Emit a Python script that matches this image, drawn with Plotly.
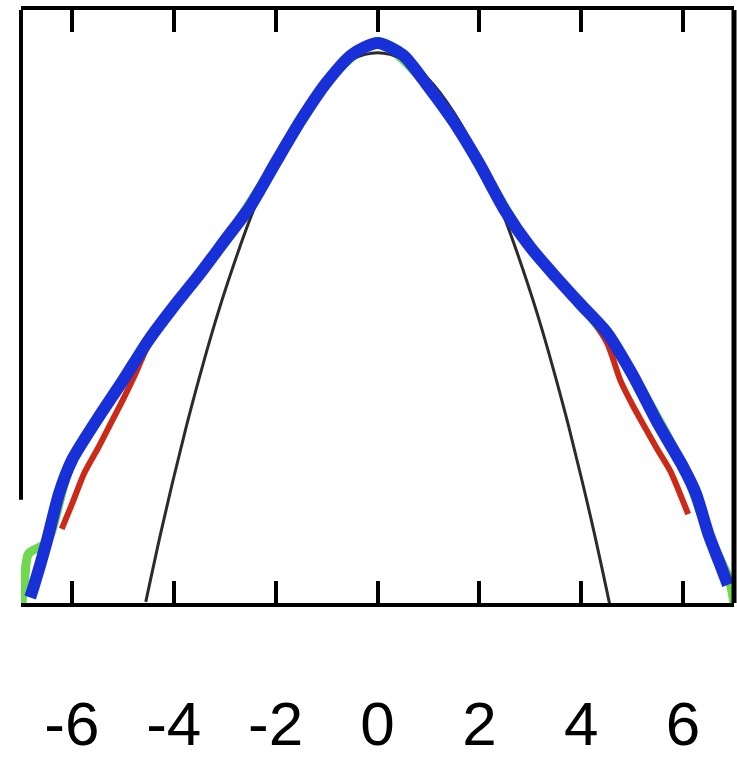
import plotly.graph_objects as go

# Log-density curves compared with a Gaussian reference (natural log, peak at 0)
blue_x = [-6.82, -6.75, -6.50, -6.25, -6.00, -5.50, -5.00, -4.50, -4.00, -3.50,
          -3.00, -2.50, -2.00, -1.50, -1.00, -0.50, 0.00, 0.50, 1.00, 1.50,
          2.00, 2.50, 3.00, 3.50, 4.00, 4.50, 5.00, 5.50, 6.00, 6.25,
          6.50, 6.75, 6.88]
blue_y = [-10.10, -9.90, -9.10, -8.20, -7.60, -6.85, -6.15, -5.42, -4.80, -4.22,
          -3.60, -2.98, -2.18, -1.40, -0.72, -0.21, 0.00, -0.22, -0.80, -1.44,
          -2.20, -3.05, -3.72, -4.26, -4.77, -5.27, -6.03, -6.92, -7.72, -8.20,
          -8.95, -9.55, -9.87]

red_x = [-6.20, -6.00, -5.75, -5.50, -5.25, -5.00, -4.75, -4.50, -4.00, -3.50,
         -3.00, -2.50, -2.00, -1.50, -1.00, -0.50, 0.00, 0.50, 1.00, 1.50,
         2.00, 2.50, 3.00, 3.50, 4.00, 4.50, 4.77, 5.00, 5.25, 5.50,
         5.75, 6.00, 6.10]
red_y = [-8.85, -8.40, -7.82, -7.40, -6.95, -6.50, -6.02, -5.50, -4.80, -4.22,
         -3.60, -2.98, -2.18, -1.40, -0.72, -0.21, 0.00, -0.22, -0.80, -1.44,
         -2.20, -3.05, -3.72, -4.26, -4.77, -5.45, -6.15, -6.58, -7.00, -7.41,
         -7.80, -8.35, -8.58]

green_x = [-6.98, -6.93, -6.85, -6.50, -6.00, -5.00, -4.00, -3.00, -2.00, -1.00,
           0.00, 1.00, 2.00, 3.00, 4.00, 5.00, 6.00, 6.50, 6.75, 6.90,
           7.00]
green_y = [-10.20, -9.80, -9.30, -9.10, -7.60, -6.15, -4.80, -3.60, -2.18, -0.72,
           0.00, -0.80, -2.20, -3.72, -4.77, -6.03, -7.72, -8.95, -9.45, -9.75,
           -10.20]

gauss_x = [-4.55, -4.25, -4.00, -3.75, -3.50, -3.25, -3.00, -2.50, -2.00, -1.50,
           -1.00, -0.50, 0.00, 0.50, 1.00, 1.50, 2.00, 2.50, 3.00, 3.25,
           3.50, 3.75, 4.00, 4.25, 4.60]
gauss_y = [-10.18, -8.90, -7.91, -6.97, -6.10, -5.28, -4.53, -3.20, -2.11, -1.27,
           -0.66, -0.30, -0.18, -0.30, -0.66, -1.27, -2.11, -3.20, -4.53, -5.28,
           -6.10, -6.97, -7.91, -8.90, -10.40]

tick_vals = [-6, -4, -2, 0, 2, 4, 6]
tick_text = ["-6", "-4", "-2", "0", "2", "4", "6"]

fig = go.Figure()
fig.add_trace(go.Scatter(x=green_x, y=green_y, mode="lines",
                         line=dict(color="#6fd84f", width=9, shape="spline", smoothing=0.8)))
fig.add_trace(go.Scatter(x=red_x, y=red_y, mode="lines",
                         line=dict(color="#cc2a18", width=6, shape="spline", smoothing=0.8)))
fig.add_trace(go.Scatter(x=gauss_x, y=gauss_y, mode="lines",
                         line=dict(color="#2b2b2b", width=3, shape="spline", smoothing=1.0)))
fig.add_trace(go.Scatter(x=blue_x, y=blue_y, mode="lines",
                         line=dict(color="#1830d8", width=12, shape="spline", smoothing=0.7)))

fig.update_layout(
    width=737, height=762,
    margin=dict(l=21, r=3, t=10, b=159),
    paper_bgcolor="white", plot_bgcolor="white",
    showlegend=False,
    xaxis=dict(range=[-7.0, 7.0], tickvals=tick_vals, ticktext=tick_text,
               ticks="inside", ticklen=22, tickwidth=3.5, tickcolor="black",
               showline=True, linewidth=4, linecolor="black", mirror="ticks",
               showgrid=False, zeroline=False, ticklabelstandoff=64,
               automargin=False,
               tickfont=dict(family="Liberation Sans", size=62, color="black")),
    yaxis=dict(range=[-10.2, 0.6], showticklabels=False, showgrid=False,
               zeroline=False, showline=False, ticks="", automargin=False),
    shapes=[
        dict(type="line", xref="paper", yref="paper", x0=0, x1=0, y0=0.174, y1=1,
             line=dict(color="black", width=4)),
        dict(type="line", xref="paper", yref="paper", x0=1, x1=1, y0=0, y1=1,
             line=dict(color="black", width=5)),
    ],
)

fig.write_html("out.html")
